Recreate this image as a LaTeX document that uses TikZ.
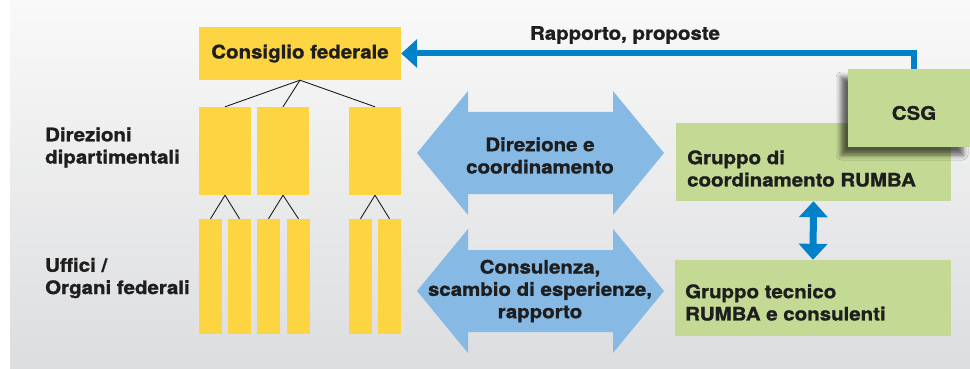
\documentclass[tikz,border=0pt]{standalone}
\usepackage{fontspec}
\setmainfont{TeX Gyre Heros}[FakeStretch=1.1, BoldFeatures={FakeBold=1.2}]
\usetikzlibrary{arrows.meta,shadows.blur,calc}
\definecolor{bgtop}{HTML}{F9F9F9}
\definecolor{bgbot}{HTML}{DCDDDF}
\definecolor{cfyellow}{HTML}{FDD441}
\definecolor{rgreen}{HTML}{C3D994}
\definecolor{lblue}{HTML}{86B9E4}
\definecolor{dblue}{HTML}{0081C9}
\definecolor{txt}{HTML}{1E1E1E}
\tikzset{
  ybox/.style={fill=cfyellow, inner sep=0pt, draw=none},
  gbox/.style={fill=rgreen, inner sep=0pt, draw=none},
  lbl/.style={text=txt, font=\fontsize{18.6}{22.3}\selectfont\bfseries, inner sep=0pt},
  hline/.style={draw=txt, line width=0.9pt},
  bigarrow/.style={fill=lblue, draw=none},
  blueconn/.style={draw=dblue, line width=6pt},
}
\begin{document}
\begin{tikzpicture}[x=1pt,y=-1pt]
\useasboundingbox (0,0) rectangle (970,369);
\shade[top color=bgtop, bottom color=bgbot] (10,0) rectangle (970,369);

% Consiglio federale
\node[ybox, minimum width=202pt, minimum height=53pt] (cf) at (300,53.5) {};
\node[lbl] (cftxt) at (cf.center) {Consiglio federale};

% Direzioni dipartimentali
\node[ybox, minimum width=52pt, minimum height=88pt] (d1) at (225,151) {};
\node[ybox, minimum width=52pt, minimum height=88pt] (d2) at (283,151) {};
\node[ybox, minimum width=52pt, minimum height=88pt] (d3) at (375,151) {};

% Uffici
\foreach \n/\x in {u1/210.5,u2/239.5,u3/268.5,u4/298.5,u5/360.5,u6/389.5}{
  \node[ybox, minimum width=23pt, minimum height=115pt] (\n) at (\x,276.5) {};
}

\draw[hline] (cf.south) -- (d1.north);
\draw[hline] (cf.south) -- (d2.north);
\draw[hline] (cf.south) -- (d3.north);
\draw[hline] (d1.south) -- (u1.north);
\draw[hline] (d1.south) -- (u2.north);
\draw[hline] (d2.south) -- (u3.north);
\draw[hline] (d2.south) -- (u4.north);
\draw[hline] (d3.south) -- (u5.north);
\draw[hline] (d3.south) -- (u6.north);

\node[lbl, anchor=west, align=left] (dirlbl) at (45,147.5) {Direzioni\\dipartimentali};
\node[lbl, anchor=west, align=left] (uflbl) at (45,278) {Uffici /\\Organi federali};

% big double arrows
\path[bigarrow] (417,153) -- (468,91) -- (468,112) -- (613,112) -- (613,91) -- (664,153)
  -- (613,215) -- (613,194) -- (468,194) -- (468,215) -- cycle;
\node[lbl, align=center] (a1txt) at (540,155.5) {Direzione e\\coordinamento};
\path[bigarrow] (417,291) -- (468,229) -- (468,250) -- (613,250) -- (613,229) -- (664,291)
  -- (613,353) -- (613,332) -- (468,332) -- (468,353) -- cycle;
\node[lbl, align=center] (a2txt) at (540,291) {Consulenza,\\scambio di esperienze,\\rapporto};

% green boxes
\node[gbox, minimum width=275pt, minimum height=78pt] (rumba) at (813.5,162) {};
\node[lbl, anchor=west, align=left] (rumbatxt) at (687,168.5) {Gruppo di\\coordinamento RUMBA};
\node[gbox, minimum width=276pt, minimum height=76pt] (tech) at (813,298) {};
\node[lbl, anchor=west, align=left] (techtxt) at (685,302.5) {Gruppo tecnico\\RUMBA e consulenti};

\node[gbox, minimum width=122pt, minimum height=78pt,
  blur shadow={shadow xshift=-7pt, shadow yshift=-8pt, shadow blur radius=5pt, shadow opacity=60}] (csg) at (909,108) {};
\node[lbl] (csgtxt) at (914,113) {CSG};

% connectors
\coordinate (csgtop) at ($(csg.north)+(4.5,0)$);
\draw[blueconn, -{Triangle[length=16pt,width=28pt]}] (csgtop) |- (cf.east);
\draw[dblue, line width=7pt, {Triangle[length=16pt,width=28pt]}-{Triangle[length=16pt,width=28pt]}] (rumba.south) -- (tech.north);

\node[lbl] (rapp) at (625,35) {Rapporto, proposte};
\end{tikzpicture}
\end{document}
